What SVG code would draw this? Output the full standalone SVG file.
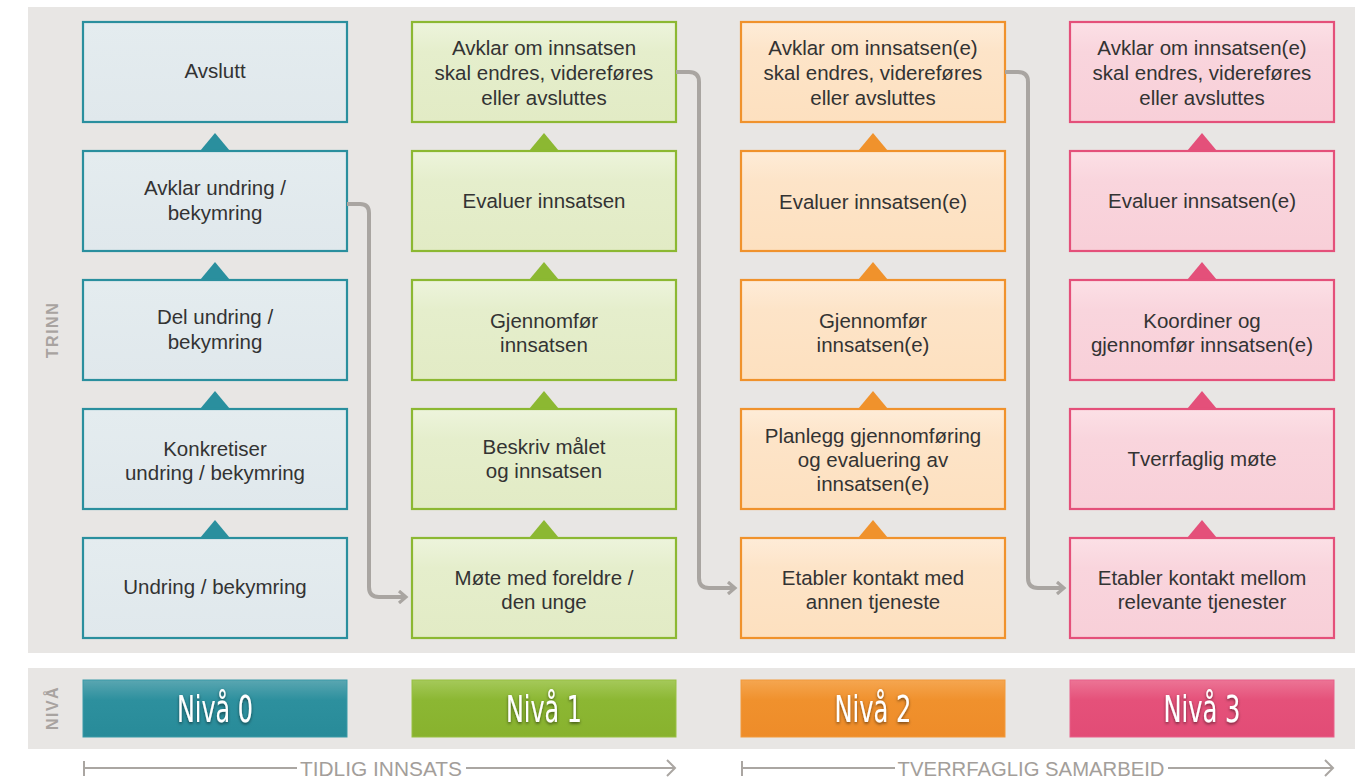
<svg xmlns="http://www.w3.org/2000/svg" width="1371" height="779" viewBox="0 0 1371 779">
<defs>
<linearGradient id="g0" x1="0" y1="0" x2="0" y2="1"><stop offset="0" stop-color="#e4ecef"/><stop offset="1" stop-color="#e0e8ec"/></linearGradient>
<linearGradient id="g1" x1="0" y1="0" x2="0" y2="1"><stop offset="0" stop-color="#edf4dc"/><stop offset="0.3" stop-color="#e5eecc"/><stop offset="1" stop-color="#e2ebc5"/></linearGradient>
<linearGradient id="g2" x1="0" y1="0" x2="0" y2="1"><stop offset="0" stop-color="#feecd8"/><stop offset="0.3" stop-color="#fde4c8"/><stop offset="1" stop-color="#fde0bf"/></linearGradient>
<linearGradient id="g3" x1="0" y1="0" x2="0" y2="1"><stop offset="0" stop-color="#fce0e6"/><stop offset="0.3" stop-color="#f9d5dd"/><stop offset="1" stop-color="#f8cfd8"/></linearGradient>
<linearGradient id="n0" x1="0" y1="0" x2="0" y2="1"><stop offset="0" stop-color="#5aa6b1"/><stop offset="0.35" stop-color="#2d909e"/><stop offset="1" stop-color="#288b99"/></linearGradient>
<linearGradient id="n1" x1="0" y1="0" x2="0" y2="1"><stop offset="0" stop-color="#a5c95a"/><stop offset="0.35" stop-color="#8cb733"/><stop offset="1" stop-color="#88b22e"/></linearGradient>
<linearGradient id="n2" x1="0" y1="0" x2="0" y2="1"><stop offset="0" stop-color="#f5a650"/><stop offset="0.35" stop-color="#f0912d"/><stop offset="1" stop-color="#ee8c29"/></linearGradient>
<linearGradient id="n3" x1="0" y1="0" x2="0" y2="1"><stop offset="0" stop-color="#ec7495"/><stop offset="0.35" stop-color="#e5517a"/><stop offset="1" stop-color="#e24c76"/></linearGradient>
<filter id="sh" x="-20%" y="-20%" width="140%" height="160%"><feDropShadow dx="0" dy="1.5" stdDeviation="1.5" flood-color="#000" flood-opacity="0.55"/></filter>
<marker id="ah" markerWidth="12" markerHeight="14" refX="9" refY="7" orient="auto" markerUnits="userSpaceOnUse"><path d="M2,1 L9,7 L2,13" fill="none" stroke="#a9a5a1" stroke-width="3.2"/></marker>
</defs>
<style>
.panel{fill:#e8e6e4}
.t{font-family:"Liberation Sans",Arial,sans-serif;font-size:20.5px;fill:#333;text-anchor:middle}
.c0{fill:url(#g0);stroke:#2a8f9e;stroke-width:2.2}
.c1{fill:url(#g1);stroke:#8cb832;stroke-width:2.2}
.c2{fill:url(#g2);stroke:#f0922c;stroke-width:2.2}
.c3{fill:url(#g3);stroke:#e4507a;stroke-width:2.2}
.a0{fill:#2a8f9e}.a1{fill:#8cb832}.a2{fill:#f0922c}.a3{fill:#e4507a}
.conn{fill:none;stroke:#a9a5a1;stroke-width:4;stroke-linejoin:round}
.lbl{font-family:"Liberation Sans",Arial,sans-serif;font-weight:bold;font-size:16px;fill:#a8a3a0;letter-spacing:1.5px;text-anchor:middle}
.niva{font-family:"DejaVu Sans Condensed","Liberation Sans",sans-serif;font-size:38px;fill:#fff;text-anchor:middle}
.axis{fill:none;stroke:#aaa6a2;stroke-width:2}
.axt{font-family:"Liberation Sans",Arial,sans-serif;font-size:20px;fill:#a39e9a;text-anchor:middle}
</style>
<rect class="panel" x="28" y="7" width="1327" height="646"/>
<rect class="panel" x="28" y="668" width="1327" height="81"/>
<text class="lbl" transform="translate(58,330) rotate(-90)">TRINN</text>
<text class="lbl" transform="translate(58,708) rotate(-90)">NIVÅ</text>

<g id="col0">
<g id="n0-5"><rect class="c0" x="83" y="22" width="264" height="100"/><text class="t" x="215" y="78">Avslutt</text></g>
<path class="a0" d="M200,151 L215,133 L230,151 Z"/>
<g id="n0-4"><rect class="c0" x="83" y="151" width="264" height="100"/><text class="t" x="215" y="195">Avklar undring /</text><text class="t" x="215" y="220">bekymring</text></g>
<path class="a0" d="M200,280 L215,262 L230,280 Z"/>
<g id="n0-3"><rect class="c0" x="83" y="280" width="264" height="100"/><text class="t" x="215" y="324">Del undring /</text><text class="t" x="215" y="349">bekymring</text></g>
<path class="a0" d="M200,409 L215,391 L230,409 Z"/>
<g id="n0-2"><rect class="c0" x="83" y="409" width="264" height="100"/><text class="t" x="215" y="456">Konkretiser</text><text class="t" x="215" y="480">undring / bekymring</text></g>
<path class="a0" d="M200,538 L215,520 L230,538 Z"/>
<g id="n0-1"><rect class="c0" x="83" y="538" width="264" height="100"/><text class="t" x="215" y="594">Undring / bekymring</text></g>
</g>

<g id="col1">
<g id="n1-5"><rect class="c1" x="412" y="22" width="264" height="100"/><text class="t" x="544" y="55">Avklar om innsatsen</text><text class="t" x="544" y="80">skal endres, videreføres</text><text class="t" x="544" y="105">eller avsluttes</text></g>
<path class="a1" d="M529,151 L544,133 L559,151 Z"/>
<g id="n1-4"><rect class="c1" x="412" y="151" width="264" height="100"/><text class="t" x="544" y="208">Evaluer innsatsen</text></g>
<path class="a1" d="M529,280 L544,262 L559,280 Z"/>
<g id="n1-3"><rect class="c1" x="412" y="280" width="264" height="100"/><text class="t" x="544" y="328">Gjennomfør</text><text class="t" x="544" y="352">innsatsen</text></g>
<path class="a1" d="M529,409 L544,391 L559,409 Z"/>
<g id="n1-2"><rect class="c1" x="412" y="409" width="264" height="100"/><text class="t" x="544" y="454">Beskriv målet</text><text class="t" x="544" y="478">og innsatsen</text></g>
<path class="a1" d="M529,538 L544,520 L559,538 Z"/>
<g id="n1-1"><rect class="c1" x="412" y="538" width="264" height="100"/><text class="t" x="544" y="585">Møte med foreldre /</text><text class="t" x="544" y="609">den unge</text></g>
</g>

<g id="col2">
<g id="n2-5"><rect class="c2" x="741" y="22" width="264" height="100"/><text class="t" x="873" y="55">Avklar om innsatsen(e)</text><text class="t" x="873" y="80">skal endres, videreføres</text><text class="t" x="873" y="105">eller avsluttes</text></g>
<path class="a2" d="M858,151 L873,133 L888,151 Z"/>
<g id="n2-4"><rect class="c2" x="741" y="151" width="264" height="100"/><text class="t" x="873" y="209">Evaluer innsatsen(e)</text></g>
<path class="a2" d="M858,280 L873,262 L888,280 Z"/>
<g id="n2-3"><rect class="c2" x="741" y="280" width="264" height="100"/><text class="t" x="873" y="328">Gjennomfør</text><text class="t" x="873" y="352">innsatsen(e)</text></g>
<path class="a2" d="M858,409 L873,391 L888,409 Z"/>
<g id="n2-2"><rect class="c2" x="741" y="409" width="264" height="100"/><text class="t" x="873" y="443">Planlegg gjennomføring</text><text class="t" x="873" y="467">og evaluering av</text><text class="t" x="873" y="491">innsatsen(e)</text></g>
<path class="a2" d="M858,538 L873,520 L888,538 Z"/>
<g id="n2-1"><rect class="c2" x="741" y="538" width="264" height="100"/><text class="t" x="873" y="585">Etabler kontakt med</text><text class="t" x="873" y="609">annen tjeneste</text></g>
</g>

<g id="col3">
<g id="n3-5"><rect class="c3" x="1070" y="22" width="264" height="100"/><text class="t" x="1202" y="55">Avklar om innsatsen(e)</text><text class="t" x="1202" y="80">skal endres, videreføres</text><text class="t" x="1202" y="105">eller avsluttes</text></g>
<path class="a3" d="M1187,151 L1202,133 L1217,151 Z"/>
<g id="n3-4"><rect class="c3" x="1070" y="151" width="264" height="100"/><text class="t" x="1202" y="208">Evaluer innsatsen(e)</text></g>
<path class="a3" d="M1187,280 L1202,262 L1217,280 Z"/>
<g id="n3-3"><rect class="c3" x="1070" y="280" width="264" height="100"/><text class="t" x="1202" y="328">Koordiner og</text><text class="t" x="1202" y="352">gjennomfør innsatsen(e)</text></g>
<path class="a3" d="M1187,409 L1202,391 L1217,409 Z"/>
<g id="n3-2"><rect class="c3" x="1070" y="409" width="264" height="100"/><text class="t" x="1202" y="466">Tverrfaglig møte</text></g>
<path class="a3" d="M1187,538 L1202,520 L1217,538 Z"/>
<g id="n3-1"><rect class="c3" x="1070" y="538" width="264" height="100"/><text class="t" x="1202" y="585">Etabler kontakt mellom</text><text class="t" x="1202" y="609">relevante tjenester</text></g>
</g>

<g id="connectors">
<path class="conn" marker-end="url(#ah)" d="M347,204 H360 Q369,204 369,213 V587 Q369,597 379,597 H406"/>
<path class="conn" marker-end="url(#ah)" d="M676,72 H689 Q699,72 699,82 V578 Q699,588 709,588 H735"/>
<path class="conn" marker-end="url(#ah)" d="M1005,72 H1018 Q1028,72 1028,82 V578 Q1028,588 1038,588 H1064"/>
</g>

<g id="niva0"><rect x="83" y="680" width="264" height="57" fill="url(#n0)" stroke="#3a9aa7" stroke-width="1"/><text class="niva" x="215" y="722" textLength="76" lengthAdjust="spacingAndGlyphs" filter="url(#sh)">Nivå 0</text></g>
<g id="niva1"><rect x="412" y="680" width="264" height="57" fill="url(#n1)" stroke="#98c042" stroke-width="1"/><text class="niva" x="544" y="722" textLength="76" lengthAdjust="spacingAndGlyphs" filter="url(#sh)">Nivå 1</text></g>
<g id="niva2"><rect x="741" y="680" width="264" height="57" fill="url(#n2)" stroke="#f29a3c" stroke-width="1"/><text class="niva" x="873" y="722" textLength="77" lengthAdjust="spacingAndGlyphs" filter="url(#sh)">Nivå 2</text></g>
<g id="niva3"><rect x="1070" y="680" width="264" height="57" fill="url(#n3)" stroke="#e8608a" stroke-width="1"/><text class="niva" x="1202" y="722" textLength="77" lengthAdjust="spacingAndGlyphs" filter="url(#sh)">Nivå 3</text></g>

<g id="axis1">
<path class="axis" d="M84,761 V776 M84,768 H297 M466,768 H675 M667,760 L675,768 L667,776"/>
<text class="axt" x="381" y="776" textLength="162" lengthAdjust="spacingAndGlyphs">TIDLIG INNSATS</text>
</g>
<g id="axis2">
<path class="axis" d="M742,761 V776 M742,768 H895 M1168,768 H1333 M1325,760 L1333,768 L1325,776"/>
<text class="axt" x="1031" y="776" textLength="267" lengthAdjust="spacingAndGlyphs">TVERRFAGLIG SAMARBEID</text>
</g>
</svg>
